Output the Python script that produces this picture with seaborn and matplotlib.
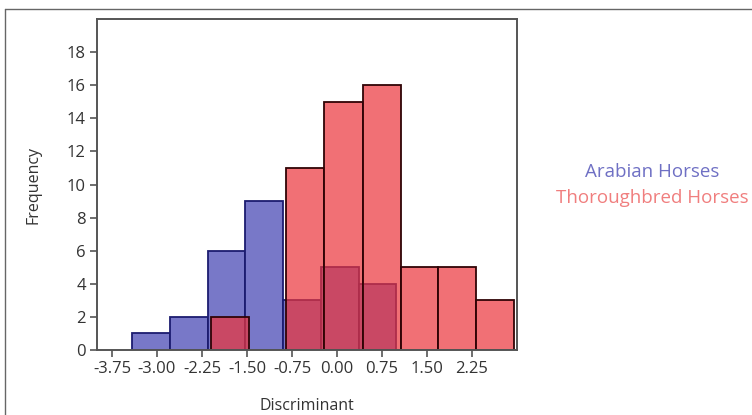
import matplotlib
matplotlib.use("Agg")
import matplotlib.pyplot as plt
from matplotlib.lines import Line2D
import seaborn as sns

# bin edges and counts
arabian_edges = [-3.417, -2.787, -2.158, -1.528, -0.90, -0.27, 0.36, 0.988]
arabian_counts = [1, 2, 6, 9, 3, 5, 4]
thoroughbred_edges = [-2.10, -1.473, -0.845, -0.22, 0.43, 1.06, 1.688, 2.32, 2.955]
thoroughbred_counts = [2, 0, 11, 15, 16, 5, 5, 3]

x_ticks = [-3.75, -3.00, -2.25, -1.50, -0.75, 0.00, 0.75, 1.50, 2.25]
y_ticks = [0, 2, 4, 6, 8, 10, 12, 14, 16, 18]

arabian_mid = [(a + b) / 2 for a, b in zip(arabian_edges[:-1], arabian_edges[1:])]
thoroughbred_mid = [(a + b) / 2 for a, b in zip(thoroughbred_edges[:-1], thoroughbred_edges[1:])]

sns.set_style("ticks")
plt.rcParams['font.family'] = ['Open Sans', 'DejaVu Sans']

fig = plt.figure(figsize=(7.52, 4.15), dpi=100)
ax = fig.add_axes([97 / 752, 65 / 415, 420 / 752, 331 / 415])

blue = "#7878c8"
red_rgba = (236 / 255, 52 / 255, 58 / 255, 0.70)

sns.histplot(x=arabian_mid, weights=arabian_counts, bins=arabian_edges,
             color=blue, alpha=1, edgecolor="#1c1c70", linewidth=1.3, ax=ax)
n_blue = len(ax.patches)
sns.histplot(x=thoroughbred_mid, weights=thoroughbred_counts, bins=thoroughbred_edges,
             color="#ec343a", alpha=1, edgecolor="#300406", linewidth=1.3, ax=ax)
for p in ax.patches[n_blue:]:
    p.set_alpha(None)
    p.set_facecolor(red_rgba)
    if p.get_height() == 0:
        p.set_visible(False)

ax.set_xlim(-4.0, 3.0)
ax.set_ylim(0, 20)
ax.set_xticks(x_ticks)
ax.set_xticklabels([f"{t:.2f}" for t in x_ticks])
ax.set_yticks(y_ticks)
ax.set_xlabel("Discriminant", fontsize=11.5, color="#333333", labelpad=15)
ax.set_ylabel("Frequency", fontsize=11.5, color="#333333", labelpad=18)
ax.tick_params(axis="both", direction="out", length=5, width=1.2, color="#555555",
               labelsize=12, labelcolor="#333333", pad=3)

for side in ["top", "right", "left", "bottom"]:
    ax.spines[side].set_color("#555555")
    ax.spines[side].set_linewidth(1.4)

# legend written as coloured text to the right
fig.text(652 / 752, 1 - 172 / 415, "Arabian Horses", color="#6f70c4",
         fontsize=13.5, ha="center", va="center")
fig.text(652 / 752, 1 - 198 / 415, "Thoroughbred Horses", color="#f07e7e",
         fontsize=13.5, ha="center", va="center")

# outer frame of the original figure
fig.add_artist(Line2D([5 / 752, 1.0], [1 - 9 / 415, 1 - 9 / 415], transform=fig.transFigure,
                      color="#666666", linewidth=1))
fig.add_artist(Line2D([5 / 752, 5 / 752], [0.0, 1 - 9 / 415], transform=fig.transFigure,
                      color="#666666", linewidth=1))

fig.savefig("out.png", dpi=100)
